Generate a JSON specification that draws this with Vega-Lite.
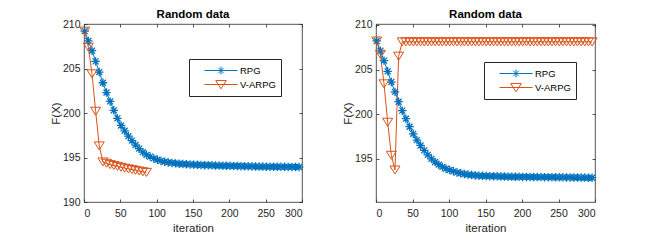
{
  "$schema": "https://vega.github.io/schema/vega-lite/v6.json",
  "padding": {"left": 50, "top": 8, "right": 5, "bottom": 5},
  "bounds": "flush",
  "spacing": 74,
  "config": {
    "view": {"stroke": "#262626", "strokeWidth": 0.8},
    "axis": {"domain": false, "grid": false, "tickColor": "#262626", "tickSize": -3, "tickWidth": 0.8,
      "labelFont": "Liberation Sans", "labelFontSize": 10.5, "labelColor": "#262626", "labelPadding": 7,
      "titleFont": "Liberation Sans", "titleFontSize": 11.5, "titleFontWeight": "normal", "titleColor": "#262626"},
    "axisX": {"labelPadding": 9},
    "title": {"font": "Liberation Sans", "fontSize": 11.5, "fontWeight": "bold", "color": "#000"},
    "legend": {"orient": "none", "title": null, "strokeColor": "#262626", "fillColor": "white", "padding": 5,
      "symbolSize": 1089, "labelFontSize": 9.5, "labelFont": "Liberation Sans", "labelColor": "#000",
      "rowPadding": 1, "clipHeight": 13, "symbolOffset": 10, "labelOffset": 2,
      "symbolStrokeWidth": 1}
  },
  "resolve": {"scale": {"color": "independent"}, "legend": {"color": "independent"}},
  "datasets": {
    "left": [
      {"iter": 1, "value": 209.2, "series": "RPG"},
      {"iter": 6, "value": 208.1, "series": "RPG"},
      {"iter": 11, "value": 207.0, "series": "RPG"},
      {"iter": 16, "value": 205.8, "series": "RPG"},
      {"iter": 21, "value": 204.6, "series": "RPG"},
      {"iter": 26, "value": 203.4, "series": "RPG"},
      {"iter": 31, "value": 202.3, "series": "RPG"},
      {"iter": 36, "value": 201.3, "series": "RPG"},
      {"iter": 41, "value": 200.3, "series": "RPG"},
      {"iter": 46, "value": 199.4, "series": "RPG"},
      {"iter": 51, "value": 198.6, "series": "RPG"},
      {"iter": 56, "value": 198.0, "series": "RPG"},
      {"iter": 61, "value": 197.4, "series": "RPG"},
      {"iter": 66, "value": 196.9, "series": "RPG"},
      {"iter": 71, "value": 196.4, "series": "RPG"},
      {"iter": 76, "value": 196.0, "series": "RPG"},
      {"iter": 81, "value": 195.6, "series": "RPG"},
      {"iter": 86, "value": 195.3, "series": "RPG"},
      {"iter": 91, "value": 195.1, "series": "RPG"},
      {"iter": 96, "value": 194.9, "series": "RPG"},
      {"iter": 101, "value": 194.75, "series": "RPG"},
      {"iter": 106, "value": 194.62, "series": "RPG"},
      {"iter": 111, "value": 194.52, "series": "RPG"},
      {"iter": 116, "value": 194.45, "series": "RPG"},
      {"iter": 121, "value": 194.39, "series": "RPG"},
      {"iter": 126, "value": 194.34, "series": "RPG"},
      {"iter": 131, "value": 194.3, "series": "RPG"},
      {"iter": 136, "value": 194.27, "series": "RPG"},
      {"iter": 141, "value": 194.24, "series": "RPG"},
      {"iter": 146, "value": 194.22, "series": "RPG"},
      {"iter": 151, "value": 194.2, "series": "RPG"},
      {"iter": 156, "value": 194.18, "series": "RPG"},
      {"iter": 161, "value": 194.16, "series": "RPG"},
      {"iter": 166, "value": 194.14, "series": "RPG"},
      {"iter": 171, "value": 194.13, "series": "RPG"},
      {"iter": 176, "value": 194.12, "series": "RPG"},
      {"iter": 181, "value": 194.1, "series": "RPG"},
      {"iter": 186, "value": 194.09, "series": "RPG"},
      {"iter": 191, "value": 194.08, "series": "RPG"},
      {"iter": 196, "value": 194.07, "series": "RPG"},
      {"iter": 201, "value": 194.06, "series": "RPG"},
      {"iter": 206, "value": 194.05, "series": "RPG"},
      {"iter": 211, "value": 194.04, "series": "RPG"},
      {"iter": 216, "value": 194.03, "series": "RPG"},
      {"iter": 221, "value": 194.02, "series": "RPG"},
      {"iter": 226, "value": 194.01, "series": "RPG"},
      {"iter": 231, "value": 194.0, "series": "RPG"},
      {"iter": 236, "value": 193.99, "series": "RPG"},
      {"iter": 241, "value": 193.98, "series": "RPG"},
      {"iter": 246, "value": 193.98, "series": "RPG"},
      {"iter": 251, "value": 193.97, "series": "RPG"},
      {"iter": 256, "value": 193.97, "series": "RPG"},
      {"iter": 261, "value": 193.96, "series": "RPG"},
      {"iter": 266, "value": 193.96, "series": "RPG"},
      {"iter": 271, "value": 193.95, "series": "RPG"},
      {"iter": 276, "value": 193.95, "series": "RPG"},
      {"iter": 281, "value": 193.94, "series": "RPG"},
      {"iter": 286, "value": 193.94, "series": "RPG"},
      {"iter": 291, "value": 193.93, "series": "RPG"},
      {"iter": 296, "value": 193.93, "series": "RPG"},
      {"iter": 1, "value": 209.2, "series": "V-ARPG"},
      {"iter": 6, "value": 207.4, "series": "V-ARPG"},
      {"iter": 11, "value": 204.4, "series": "V-ARPG"},
      {"iter": 16, "value": 200.2, "series": "V-ARPG"},
      {"iter": 21, "value": 196.3, "series": "V-ARPG"},
      {"iter": 26, "value": 194.5, "series": "V-ARPG"},
      {"iter": 31, "value": 194.35, "series": "V-ARPG"},
      {"iter": 36, "value": 194.2, "series": "V-ARPG"},
      {"iter": 41, "value": 194.1, "series": "V-ARPG"},
      {"iter": 46, "value": 194.0, "series": "V-ARPG"},
      {"iter": 51, "value": 193.9, "series": "V-ARPG"},
      {"iter": 56, "value": 193.8, "series": "V-ARPG"},
      {"iter": 61, "value": 193.72, "series": "V-ARPG"},
      {"iter": 66, "value": 193.64, "series": "V-ARPG"},
      {"iter": 71, "value": 193.56, "series": "V-ARPG"},
      {"iter": 76, "value": 193.48, "series": "V-ARPG"},
      {"iter": 81, "value": 193.4, "series": "V-ARPG"},
      {"iter": 86, "value": 193.33, "series": "V-ARPG"}
    ],
    "right": [
      {"iter": 1, "value": 208.2, "series": "RPG"},
      {"iter": 6, "value": 207.1, "series": "RPG"},
      {"iter": 11, "value": 206.0, "series": "RPG"},
      {"iter": 16, "value": 204.8, "series": "RPG"},
      {"iter": 21, "value": 203.6, "series": "RPG"},
      {"iter": 26, "value": 202.5, "series": "RPG"},
      {"iter": 31, "value": 201.4, "series": "RPG"},
      {"iter": 36, "value": 200.4, "series": "RPG"},
      {"iter": 41, "value": 199.5, "series": "RPG"},
      {"iter": 46, "value": 198.6, "series": "RPG"},
      {"iter": 51, "value": 197.8, "series": "RPG"},
      {"iter": 56, "value": 197.1, "series": "RPG"},
      {"iter": 61, "value": 196.5, "series": "RPG"},
      {"iter": 66, "value": 195.95, "series": "RPG"},
      {"iter": 71, "value": 195.45, "series": "RPG"},
      {"iter": 76, "value": 195.0, "series": "RPG"},
      {"iter": 81, "value": 194.65, "series": "RPG"},
      {"iter": 86, "value": 194.35, "series": "RPG"},
      {"iter": 91, "value": 194.1, "series": "RPG"},
      {"iter": 96, "value": 193.9, "series": "RPG"},
      {"iter": 101, "value": 193.75, "series": "RPG"},
      {"iter": 106, "value": 193.6, "series": "RPG"},
      {"iter": 111, "value": 193.48, "series": "RPG"},
      {"iter": 116, "value": 193.38, "series": "RPG"},
      {"iter": 121, "value": 193.3, "series": "RPG"},
      {"iter": 126, "value": 193.24, "series": "RPG"},
      {"iter": 131, "value": 193.19, "series": "RPG"},
      {"iter": 136, "value": 193.15, "series": "RPG"},
      {"iter": 141, "value": 193.12, "series": "RPG"},
      {"iter": 146, "value": 193.1, "series": "RPG"},
      {"iter": 151, "value": 193.08, "series": "RPG"},
      {"iter": 156, "value": 193.06, "series": "RPG"},
      {"iter": 161, "value": 193.05, "series": "RPG"},
      {"iter": 166, "value": 193.04, "series": "RPG"},
      {"iter": 171, "value": 193.03, "series": "RPG"},
      {"iter": 176, "value": 193.02, "series": "RPG"},
      {"iter": 181, "value": 193.01, "series": "RPG"},
      {"iter": 186, "value": 193.0, "series": "RPG"},
      {"iter": 191, "value": 193.0, "series": "RPG"},
      {"iter": 196, "value": 192.99, "series": "RPG"},
      {"iter": 201, "value": 192.98, "series": "RPG"},
      {"iter": 206, "value": 192.98, "series": "RPG"},
      {"iter": 211, "value": 192.97, "series": "RPG"},
      {"iter": 216, "value": 192.97, "series": "RPG"},
      {"iter": 221, "value": 192.96, "series": "RPG"},
      {"iter": 226, "value": 192.96, "series": "RPG"},
      {"iter": 231, "value": 192.95, "series": "RPG"},
      {"iter": 236, "value": 192.95, "series": "RPG"},
      {"iter": 241, "value": 192.94, "series": "RPG"},
      {"iter": 246, "value": 192.94, "series": "RPG"},
      {"iter": 251, "value": 192.93, "series": "RPG"},
      {"iter": 256, "value": 192.93, "series": "RPG"},
      {"iter": 261, "value": 192.92, "series": "RPG"},
      {"iter": 266, "value": 192.92, "series": "RPG"},
      {"iter": 271, "value": 192.91, "series": "RPG"},
      {"iter": 276, "value": 192.91, "series": "RPG"},
      {"iter": 281, "value": 192.9, "series": "RPG"},
      {"iter": 286, "value": 192.9, "series": "RPG"},
      {"iter": 291, "value": 192.89, "series": "RPG"},
      {"iter": 296, "value": 192.89, "series": "RPG"},
      {"iter": 1, "value": 208.2, "series": "V-ARPG"},
      {"iter": 6, "value": 206.7, "series": "V-ARPG"},
      {"iter": 11, "value": 203.4, "series": "V-ARPG"},
      {"iter": 16, "value": 199.1, "series": "V-ARPG"},
      {"iter": 21, "value": 195.4, "series": "V-ARPG"},
      {"iter": 26, "value": 193.75, "series": "V-ARPG"},
      {"iter": 31, "value": 206.5, "series": "V-ARPG"},
      {"iter": 36, "value": 208.1, "series": "V-ARPG"},
      {"iter": 41, "value": 208.1, "series": "V-ARPG"},
      {"iter": 46, "value": 208.1, "series": "V-ARPG"},
      {"iter": 51, "value": 208.1, "series": "V-ARPG"},
      {"iter": 56, "value": 208.1, "series": "V-ARPG"},
      {"iter": 61, "value": 208.1, "series": "V-ARPG"},
      {"iter": 66, "value": 208.1, "series": "V-ARPG"},
      {"iter": 71, "value": 208.1, "series": "V-ARPG"},
      {"iter": 76, "value": 208.1, "series": "V-ARPG"},
      {"iter": 81, "value": 208.1, "series": "V-ARPG"},
      {"iter": 86, "value": 208.1, "series": "V-ARPG"},
      {"iter": 91, "value": 208.1, "series": "V-ARPG"},
      {"iter": 96, "value": 208.1, "series": "V-ARPG"},
      {"iter": 101, "value": 208.1, "series": "V-ARPG"},
      {"iter": 106, "value": 208.1, "series": "V-ARPG"},
      {"iter": 111, "value": 208.1, "series": "V-ARPG"},
      {"iter": 116, "value": 208.1, "series": "V-ARPG"},
      {"iter": 121, "value": 208.1, "series": "V-ARPG"},
      {"iter": 126, "value": 208.1, "series": "V-ARPG"},
      {"iter": 131, "value": 208.1, "series": "V-ARPG"},
      {"iter": 136, "value": 208.1, "series": "V-ARPG"},
      {"iter": 141, "value": 208.1, "series": "V-ARPG"},
      {"iter": 146, "value": 208.1, "series": "V-ARPG"},
      {"iter": 151, "value": 208.1, "series": "V-ARPG"},
      {"iter": 156, "value": 208.1, "series": "V-ARPG"},
      {"iter": 161, "value": 208.1, "series": "V-ARPG"},
      {"iter": 166, "value": 208.1, "series": "V-ARPG"},
      {"iter": 171, "value": 208.1, "series": "V-ARPG"},
      {"iter": 176, "value": 208.1, "series": "V-ARPG"},
      {"iter": 181, "value": 208.1, "series": "V-ARPG"},
      {"iter": 186, "value": 208.1, "series": "V-ARPG"},
      {"iter": 191, "value": 208.1, "series": "V-ARPG"},
      {"iter": 196, "value": 208.1, "series": "V-ARPG"},
      {"iter": 201, "value": 208.1, "series": "V-ARPG"},
      {"iter": 206, "value": 208.1, "series": "V-ARPG"},
      {"iter": 211, "value": 208.1, "series": "V-ARPG"},
      {"iter": 216, "value": 208.1, "series": "V-ARPG"},
      {"iter": 221, "value": 208.1, "series": "V-ARPG"},
      {"iter": 226, "value": 208.1, "series": "V-ARPG"},
      {"iter": 231, "value": 208.1, "series": "V-ARPG"},
      {"iter": 236, "value": 208.1, "series": "V-ARPG"},
      {"iter": 241, "value": 208.1, "series": "V-ARPG"},
      {"iter": 246, "value": 208.1, "series": "V-ARPG"},
      {"iter": 251, "value": 208.1, "series": "V-ARPG"},
      {"iter": 256, "value": 208.1, "series": "V-ARPG"},
      {"iter": 261, "value": 208.1, "series": "V-ARPG"},
      {"iter": 266, "value": 208.1, "series": "V-ARPG"},
      {"iter": 271, "value": 208.1, "series": "V-ARPG"},
      {"iter": 276, "value": 208.1, "series": "V-ARPG"},
      {"iter": 281, "value": 208.1, "series": "V-ARPG"},
      {"iter": 286, "value": 208.1, "series": "V-ARPG"},
      {"iter": 291, "value": 208.1, "series": "V-ARPG"},
      {"iter": 296, "value": 208.1, "series": "V-ARPG"}
    ]
  },
  "hconcat": [
    {
      "width": 218, "height": 178,
      "title": {"text": "Random data", "offset": -1},
      "data": {"name": "left"},
      "layer": [
        {
          "mark": {"type": "line", "strokeWidth": 1},
          "encoding": {
            "x": {"field": "iter", "type": "quantitative", "scale": {"domain": [0, 300], "nice": false}, "axis": {"values": [0, 50, 100, 150, 200, 250, 300], "title": "iteration", "titlePadding": 4}},
            "y": {"field": "value", "type": "quantitative", "scale": {"domain": [190, 210], "nice": false, "zero": false}, "axis": {"values": [190, 195, 200, 205, 210], "title": "F(X)", "titlePadding": 1}},
            "color": {"field": "series", "type": "nominal", "scale": {"domain": ["RPG", "V-ARPG"], "range": ["#0072BD", "#D95319"]},
              "legend": {"legendX": 105, "legendY": 35,
                "encode": {"symbols": {"update": {
                  "shape": {"signal": "datum.value == 'RPG' ? 'M-1,0H1M-0.24,0H0.24M0,-0.24V0.24M-0.17,-0.17L0.17,0.17M-0.17,0.17L0.17,-0.17' : 'M-1,0H1M-0.32,-0.24L0.32,-0.24L0,0.26Z'"},
                  "stroke": {"signal": "datum.value == 'RPG' ? '#0072BD' : '#D95319'"},
                  "fill": {"value": "transparent"},
                  "opacity": {"value": 1}
                }}}}}
          }
        },
        {
          "transform": [{"filter": "datum.series == 'RPG'"}],
          "mark": {"type": "point", "shape": "M-1,0H1M0,-1V1M-0.7,-0.7L0.7,0.7M-0.7,0.7L0.7,-0.7", "size": 72, "filled": false, "strokeWidth": 1.3, "color": "#0072BD", "opacity": 1},
          "encoding": {
            "x": {"field": "iter", "type": "quantitative", "scale": {"domain": [0, 300], "nice": false}, "axis": null},
            "y": {"field": "value", "type": "quantitative", "scale": {"domain": [190, 210], "nice": false, "zero": false}, "axis": null}
          }
        },
        {
          "transform": [{"filter": "datum.series == 'V-ARPG'"}],
          "mark": {"type": "point", "shape": "M-1,-0.8L1,-0.8L0,0.8Z", "size": 100, "filled": false, "strokeWidth": 1, "color": "#D95319", "opacity": 1},
          "encoding": {
            "x": {"field": "iter", "type": "quantitative", "scale": {"domain": [0, 300], "nice": false}, "axis": null},
            "y": {"field": "value", "type": "quantitative", "scale": {"domain": [190, 210], "nice": false, "zero": false}, "axis": null}
          }
        },
        {
          "mark": {"type": "point", "opacity": 0},
          "encoding": {
            "x": {"field": "iter", "type": "quantitative", "scale": {"domain": [0, 300], "nice": false}, "axis": {"orient": "top", "values": [0, 50, 100, 150, 200, 250, 300], "labels": false, "title": null}},
            "y": {"field": "value", "type": "quantitative", "scale": {"domain": [190, 210], "nice": false, "zero": false}, "axis": {"orient": "right", "values": [190, 195, 200, 205, 210], "labels": false, "title": null}}
          }
        }
      ],
      "resolve": {"axis": {"x": "independent", "y": "independent"}}
    },
    {
      "width": 219, "height": 178,
      "title": {"text": "Random data", "offset": -1},
      "data": {"name": "right"},
      "layer": [
        {
          "mark": {"type": "line", "strokeWidth": 1},
          "encoding": {
            "x": {"field": "iter", "type": "quantitative", "scale": {"domain": [0, 300], "nice": false}, "axis": {"values": [0, 50, 100, 150, 200, 250, 300], "title": "iteration", "titlePadding": 4}},
            "y": {"field": "value", "type": "quantitative", "scale": {"domain": [190.17, 210.1], "nice": false, "zero": false}, "axis": {"values": [195, 200, 205, 210], "title": "F(X)", "titlePadding": 1}},
            "color": {"field": "series", "type": "nominal", "scale": {"domain": ["RPG", "V-ARPG"], "range": ["#0072BD", "#D95319"]},
              "legend": {"legendX": 108, "legendY": 38,
                "encode": {"symbols": {"update": {
                  "shape": {"signal": "datum.value == 'RPG' ? 'M-1,0H1M-0.24,0H0.24M0,-0.24V0.24M-0.17,-0.17L0.17,0.17M-0.17,0.17L0.17,-0.17' : 'M-1,0H1M-0.32,-0.24L0.32,-0.24L0,0.26Z'"},
                  "stroke": {"signal": "datum.value == 'RPG' ? '#0072BD' : '#D95319'"},
                  "fill": {"value": "transparent"},
                  "opacity": {"value": 1}
                }}}}}
          }
        },
        {
          "transform": [{"filter": "datum.series == 'RPG'"}],
          "mark": {"type": "point", "shape": "M-1,0H1M0,-1V1M-0.7,-0.7L0.7,0.7M-0.7,0.7L0.7,-0.7", "size": 72, "filled": false, "strokeWidth": 1.3, "color": "#0072BD", "opacity": 1},
          "encoding": {
            "x": {"field": "iter", "type": "quantitative", "scale": {"domain": [0, 300], "nice": false}, "axis": null},
            "y": {"field": "value", "type": "quantitative", "scale": {"domain": [190.17, 210.1], "nice": false, "zero": false}, "axis": null}
          }
        },
        {
          "transform": [{"filter": "datum.series == 'V-ARPG'"}],
          "mark": {"type": "point", "shape": "M-1,-0.8L1,-0.8L0,0.8Z", "size": 100, "filled": false, "strokeWidth": 1, "color": "#D95319", "opacity": 1},
          "encoding": {
            "x": {"field": "iter", "type": "quantitative", "scale": {"domain": [0, 300], "nice": false}, "axis": null},
            "y": {"field": "value", "type": "quantitative", "scale": {"domain": [190.17, 210.1], "nice": false, "zero": false}, "axis": null}
          }
        },
        {
          "mark": {"type": "point", "opacity": 0},
          "encoding": {
            "x": {"field": "iter", "type": "quantitative", "scale": {"domain": [0, 300], "nice": false}, "axis": {"orient": "top", "values": [0, 50, 100, 150, 200, 250, 300], "labels": false, "title": null}},
            "y": {"field": "value", "type": "quantitative", "scale": {"domain": [190.17, 210.1], "nice": false, "zero": false}, "axis": {"orient": "right", "values": [195, 200, 205, 210], "labels": false, "title": null}}
          }
        }
      ],
      "resolve": {"axis": {"x": "independent", "y": "independent"}}
    }
  ]
}
